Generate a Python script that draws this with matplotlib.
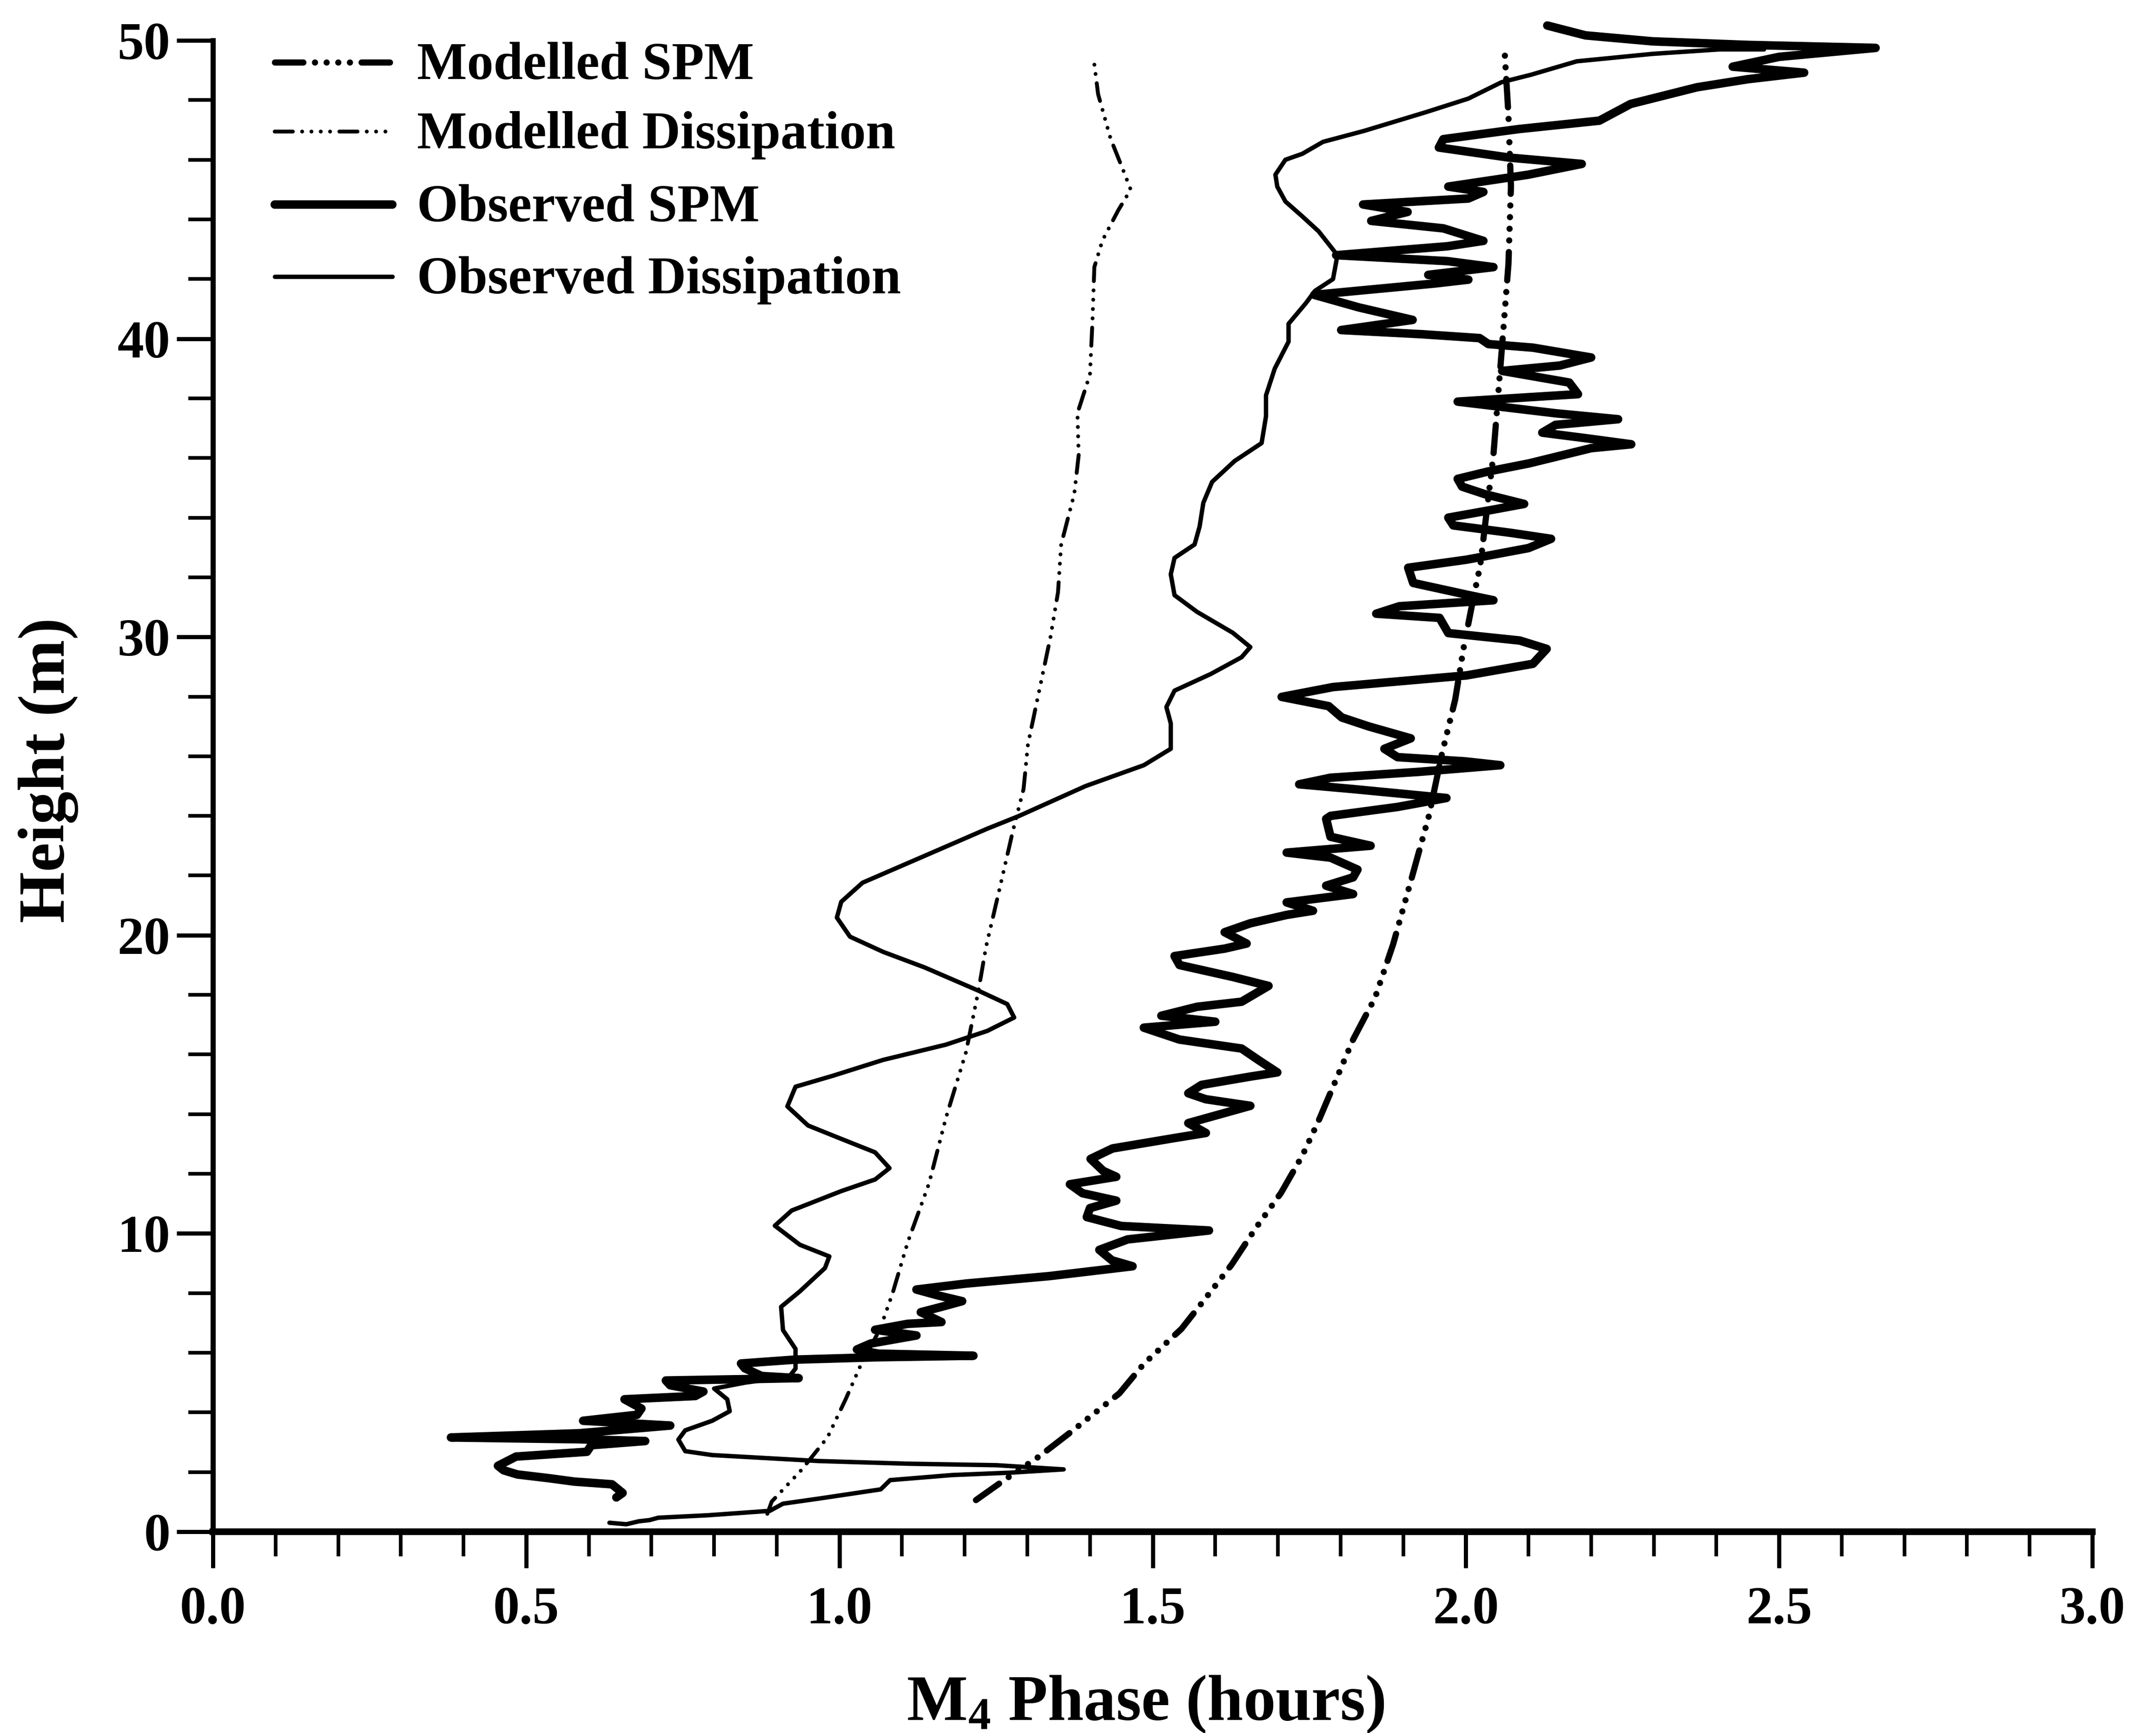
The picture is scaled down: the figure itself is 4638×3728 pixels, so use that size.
import matplotlib
matplotlib.use("Agg")
import matplotlib.pyplot as plt
from matplotlib.ticker import MultipleLocator

plt.rcParams['font.family'] = ['Liberation Serif', 'DejaVu Serif']
plt.rcParams['font.weight'] = 'bold'
plt.rcParams['mathtext.fontset'] = 'custom'
plt.rcParams['mathtext.rm'] = 'Liberation Serif:bold'
plt.rcParams['mathtext.default'] = 'rm'
plt.rcParams['lines.scale_dashes'] = False

# ---------------- data: M4 phase (hours) against height (m) ----------------
mod_spm_phase = [1.218, 1.261, 1.320, 1.373, 1.447, 1.486, 1.546, 1.579, 1.626, 1.665,
                 1.705, 1.739, 1.765, 1.820, 1.855, 1.884, 1.912, 1.941, 1.962, 1.983,
                 1.997, 2.012, 2.023, 2.044, 2.058, 2.068, 2.072, 2.068, 2.062]
mod_spm_height = [1.06, 1.70, 2.54, 3.40, 4.64, 5.63, 6.80, 7.68, 8.95, 10.19,
                  11.36, 12.61, 13.78, 16.5, 17.9, 19.7, 21.8, 24.0, 26.1, 27.9,
                  29.7, 31.3, 32.4, 36.1, 39.8, 42.5, 45.1, 47.5, 49.6]

mod_diss_phase = [0.885, 0.892, 0.939, 0.981, 1.010, 1.035, 1.065, 1.085, 1.109, 1.143,
                  1.170, 1.202, 1.222, 1.234, 1.254, 1.277, 1.294, 1.301, 1.322, 1.337,
                  1.349, 1.354, 1.375, 1.382, 1.380, 1.400, 1.404, 1.407, 1.420, 1.445,
                  1.465, 1.454, 1.433, 1.413, 1.407]
mod_diss_height = [0.6, 1.01, 2.06, 3.16, 4.44, 5.63, 6.8, 8.0, 9.7, 11.67,
                   13.87, 16.07, 18.14, 19.6, 21.4, 23.5, 24.9, 26.4, 28.5, 30.0,
                   31.5, 33.1, 34.8, 36.1, 37.5, 38.8, 40.6, 42.4, 43.3, 44.3,
                   45.0, 45.6, 46.7, 48.2, 49.2]

obs_spm_phase = [0.644, 0.654, 0.637, 0.577, 0.538, 0.486, 0.464, 0.455, 0.484, 0.597,
                 0.604, 0.690, 0.584, 0.380, 0.584, 0.730, 0.591, 0.677, 0.684, 0.657,
                 0.770, 0.783, 0.730, 0.723, 0.863, 0.935, 0.876, 0.849, 0.843, 0.929,
                 1.062, 1.214, 1.062, 1.028, 1.050, 1.123, 1.057, 1.109, 1.163, 1.130,
                 1.163, 1.196, 1.156, 1.123, 1.202, 1.335, 1.468, 1.435, 1.415, 1.460,
                 1.590, 1.450, 1.395, 1.400, 1.442, 1.388, 1.368, 1.442, 1.421, 1.401,
                 1.436, 1.535, 1.585, 1.557, 1.656, 1.585, 1.557, 1.578, 1.656, 1.699,
                 1.670, 1.642, 1.543, 1.486, 1.600, 1.514, 1.571, 1.642, 1.685, 1.628,
                 1.543, 1.535, 1.615, 1.650, 1.615, 1.656, 1.714, 1.756, 1.714, 1.820,
                 1.777, 1.820, 1.827, 1.784, 1.714, 1.848, 1.784, 1.777, 1.784, 1.891,
                 1.969, 1.820, 1.734, 1.784, 1.927, 2.055, 1.998, 1.891, 1.870, 1.912,
                 1.845, 1.802, 1.781, 1.706, 1.788, 2.001, 2.107, 2.129, 2.086, 1.972,
                 1.958, 1.857, 1.894, 2.044, 2.001, 1.916, 1.908, 2.001, 2.100, 2.136,
                 2.072, 1.980, 1.972, 2.044, 2.093, 2.030, 1.994, 1.987, 2.036, 2.101,
                 2.200, 2.264, 2.193, 2.122, 2.143, 2.243, 2.143, 1.987, 2.179, 2.165,
                 2.058, 2.150, 2.200, 2.107, 2.036, 2.022, 1.930, 1.801, 1.915, 1.829,
                 1.758, 1.950, 2.004, 1.940, 2.044, 1.971, 1.793, 1.971, 2.028, 1.964,
                 1.849, 1.907, 1.836, 2.004, 2.028, 1.972, 2.100, 2.185, 2.070, 1.957,
                 1.964, 2.085, 2.213, 2.263, 2.369, 2.450, 2.540, 2.426, 2.500, 2.654,
                 2.450, 2.298, 2.191, 2.130]
obs_spm_height = [1.15, 1.30, 1.59, 1.68, 1.79, 1.92, 2.06, 2.21, 2.52, 2.68,
                  2.90, 3.04, 3.10, 3.16, 3.30, 3.56, 3.72, 3.92, 4.13, 4.44,
                  4.55, 4.70, 4.91, 5.07, 5.12, 5.15, 5.22, 5.48, 5.64, 5.77,
                  5.85, 5.90, 5.97, 6.11, 6.31, 6.58, 6.77, 6.97, 7.03, 7.36,
                  7.54, 7.73, 7.93, 8.12, 8.32, 8.57, 8.90, 9.10, 9.45, 9.80,
                  10.10, 10.25, 10.55, 10.85, 11.10, 11.35, 11.65, 11.90, 12.10, 12.50,
                  12.85, 13.20, 13.37, 13.70, 14.28, 14.50, 14.70, 14.98, 15.26, 15.40,
                  15.80, 16.20, 16.50, 16.90, 17.10, 17.30, 17.60, 17.77, 18.30, 18.60,
                  19.00, 19.30, 19.55, 19.72, 20.10, 20.40, 20.68, 20.82, 21.10, 21.38,
                  21.66, 21.94, 22.20, 22.60, 22.77, 23.00, 23.30, 23.90, 24.00, 24.30,
                  24.60, 24.90, 25.06, 25.28, 25.48, 25.70, 25.83, 25.97, 26.25, 26.60,
                  27.00, 27.30, 27.68, 27.99, 28.32, 28.71, 29.10, 29.60, 29.88, 30.13,
                  30.64, 30.78, 31.03, 31.23, 31.42, 31.81, 32.32, 32.59, 32.98, 33.29,
                  33.49, 33.74, 34.00, 34.27, 34.46, 34.79, 35.04, 35.30, 35.55, 35.82,
                  36.33, 36.46, 36.66, 36.85, 37.11, 37.30, 37.50, 37.89, 38.14, 38.53,
                  38.92, 39.10, 39.37, 39.70, 39.82, 40.02, 40.15, 40.29, 40.63, 41.05,
                  41.47, 41.85, 41.98, 42.14, 42.40, 42.60, 42.80, 43.10, 43.28, 43.70,
                  43.95, 44.25, 44.50, 44.70, 44.92, 45.10, 45.50, 45.86, 46.07, 46.41,
                  46.69, 47.03, 47.31, 47.87, 48.43, 48.70, 48.92, 49.12, 49.45, 49.75,
                  49.85, 49.97, 50.17, 50.50]

obs_diss_phase = [0.633, 0.660, 0.680, 0.697, 0.711, 0.789, 0.889, 0.910, 0.967, 1.066,
                  1.081, 1.180, 1.273, 1.358, 1.251, 1.110, 0.967, 0.797, 0.754, 0.743,
                  0.754, 0.797, 0.825, 0.821, 0.800, 0.850, 0.920, 0.930, 0.930, 0.910,
                  0.907, 0.937, 0.977, 0.984, 0.937, 0.897, 0.924, 1.003, 1.057, 1.080,
                  1.057, 0.996, 0.950, 0.917, 0.930, 0.990, 1.070, 1.170, 1.236, 1.279,
                  1.268, 1.222, 1.136, 1.070, 1.017, 0.996, 1.003, 1.037, 1.136, 1.236,
                  1.287, 1.393, 1.486, 1.529, 1.529, 1.522, 1.535, 1.593, 1.642, 1.656,
                  1.628, 1.571, 1.535, 1.529, 1.535, 1.567, 1.575, 1.581, 1.595, 1.631,
                  1.674, 1.681, 1.681, 1.695, 1.717, 1.717, 1.745, 1.759, 1.788, 1.795,
                  1.765, 1.739, 1.712, 1.699, 1.696, 1.712, 1.739, 1.772, 1.838, 1.937,
                  2.004, 2.057, 2.104, 2.177, 2.298, 2.405, 2.476]
obs_diss_height = [0.30, 0.25, 0.35, 0.39, 0.47, 0.55, 0.70, 0.94, 1.11, 1.42,
                   1.73, 1.90, 1.98, 2.09, 2.23, 2.28, 2.37, 2.57, 2.70, 3.09,
                   3.40, 3.72, 4.04, 4.44, 4.80, 5.00, 5.20, 5.47, 6.13, 6.76,
                   7.54, 8.06, 8.84, 9.23, 9.62, 10.26, 10.77, 11.42, 11.81, 12.19,
                   12.72, 13.23, 13.62, 14.26, 14.92, 15.29, 15.82, 16.33, 16.79, 17.24,
                   17.69, 18.14, 18.92, 19.44, 19.95, 20.59, 21.12, 21.76, 22.66, 23.57,
                   24.00, 25.00, 25.70, 26.25, 27.10, 27.65, 28.20, 28.76, 29.32, 29.66,
                   30.14, 30.84, 31.40, 32.10, 32.65, 33.10, 33.70, 34.50, 35.20, 35.90,
                   36.50, 37.40, 38.10, 39.00, 39.90, 40.50, 41.20, 41.60, 42.00, 42.80,
                   43.60, 44.10, 44.60, 45.10, 45.50, 46.00, 46.20, 46.60, 46.97, 47.60,
                   48.05, 48.60, 48.85, 49.30, 49.55, 49.70, 49.70]

series_labels = ["Modelled SPM", "Modelled Dissipation", "Observed SPM", "Observed Dissipation"]
x_ticks = [0.0, 0.5, 1.0, 1.5, 2.0, 2.5, 3.0]
y_ticks = [0, 10, 20, 30, 40, 50]

# ---------------- line styles ----------------
styles = [
    dict(color='black', lw=2.4, linestyle=(0, (11, 4.5, 0.01, 4.5, 0.01, 4.5, 0.01, 4.5, 0.01, 4.5)),
         dash_capstyle='round', solid_capstyle='round'),
    dict(color='black', lw=1.5, linestyle=(0, (7, 3.6, 0.01, 3.6, 0.01, 3.6, 0.01, 3.6, 0.01, 3.6)),
         dash_capstyle='round', solid_capstyle='round'),
    dict(color='black', lw=3.3, linestyle='-', solid_capstyle='round', solid_joinstyle='round'),
    dict(color='black', lw=1.7, linestyle='-', solid_capstyle='round', solid_joinstyle='round'),
]

W, H = 4638, 3728
fig = plt.figure(figsize=(W / 400, H / 400), dpi=400)
ax_l, ax_r, ax_b, ax_t = 458 / W, 4501 / W, 1 - 3295 / H, 1 - 87 / H
ax = fig.add_axes([ax_l, ax_b, ax_r - ax_l, ax_t - ax_b])

series = [(mod_spm_phase, mod_spm_height), (mod_diss_phase, mod_diss_height),
          (obs_spm_phase, obs_spm_height), (obs_diss_phase, obs_diss_height)]
for (xs, ys), st in zip(series, styles):
    ax.plot(xs, ys, clip_on=False, **st)

ax.set_xlim(0, 3)
ax.set_ylim(0, 50)
ax.set_xticks(x_ticks)
ax.set_xticklabels([f"{v:.1f}" for v in x_ticks])
ax.set_yticks(y_ticks)
ax.set_yticklabels([str(v) for v in y_ticks])
ax.xaxis.set_minor_locator(MultipleLocator(0.1))
ax.yaxis.set_minor_locator(MultipleLocator(2))

for side in ('top', 'right'):
    ax.spines[side].set_visible(False)
ax.spines['left'].set_linewidth(2.0)
ax.spines['bottom'].set_linewidth(2.6)

ax.tick_params(which='major', direction='out', length=14, width=1.6, labelsize=20.5)
ax.tick_params(which='minor', direction='out', length=9.5, width=1.4)
ax.tick_params(axis='x', which='major', pad=7)
ax.tick_params(axis='y', which='major', pad=2.5)
for lab in ax.get_xticklabels() + ax.get_yticklabels():
    lab.set_fontweight('bold')

fig.text(2464 / W, 1 - 3700 / H, "M$_{4}$ Phase (hours)", fontsize=25, fontweight='bold',
         ha='center', va='baseline')
fig.text(104 / W, 1 - 1657 / H, "Height (m)", fontsize=25.5, fontweight='bold',
         rotation=90, ha='center', va='center', rotation_mode='anchor')

# legend drawn in figure pixels
leg_x0, leg_x1, txt_x = 591, 844, 897
leg_rows = [134, 283, 440, 595]
for label, st, yrow in zip(series_labels, styles, leg_rows):
    fy = 1 - yrow / H
    ax.plot([leg_x0 / W, leg_x1 / W], [fy, fy], transform=fig.transFigure, clip_on=False, **st)
    fig.text(txt_x / W, 1 - (yrow + 36) / H, label, fontsize=20.5, fontweight='bold',
             ha='left', va='baseline')

fig.savefig("out.png", dpi=400, facecolor='white')
